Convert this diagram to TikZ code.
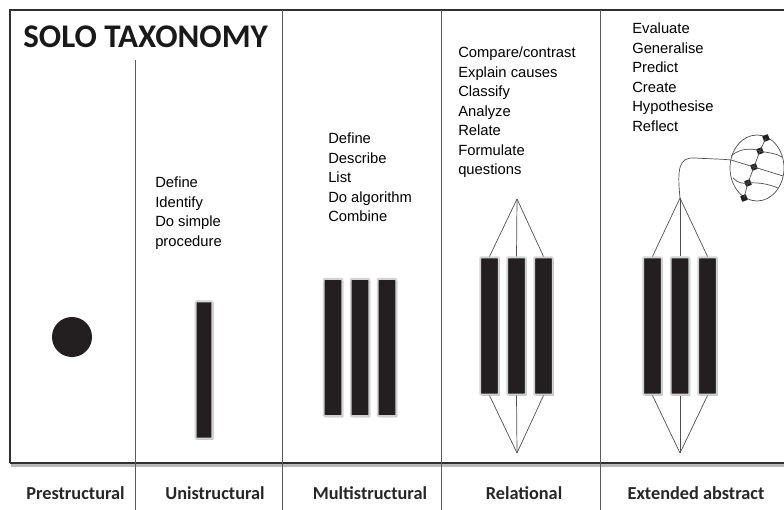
\documentclass[tikz,border=0pt]{standalone}
\usepackage{fontspec}
\setmainfont{Liberation Sans}
\newfontfamily\labelfont{Carlito}
\usepackage{tikz}
\usetikzlibrary{positioning, shadows, calc}
\definecolor{barblack}{HTML}{231F20}
\definecolor{framegray}{HTML}{303030}
\tikzset{
	barnode/.style={
			rectangle,
			draw=gray!35,
			line width=1.3pt,
			fill=barblack,
			rounded corners=0.6pt,
			minimum width=4.6mm,
			minimum height=34.3mm,
			inner sep=0pt,
			drop shadow={shadow xshift=0.3mm, shadow yshift=-0.3mm, fill=gray!60, opacity=0.9}
		},
	prenode/.style={
			circle,
			fill=barblack,
			minimum size=10mm,
			inner sep=0pt
		},
	smalldot/.style={
			rectangle,
			rounded corners=0.3pt,
			fill=barblack,
			minimum size=1.5mm,
			inner sep=0pt,
			rotate=20
		},
	wire/.style={
			draw=framegray!85,
			line width=0.5pt
		},
	divider/.style={
			draw=framegray!80,
			line width=0.6pt
		},
	listtext/.style={
			font=\fontsize{10.5}{13.8}\selectfont,
			align=left,
			anchor=north west,
			inner sep=0pt,
			text=black
		},
	leveltext/.style={
			font=\labelfont\bfseries\fontsize{13}{15}\selectfont,
			anchor=base,
			inner sep=0pt,
			text=black!85
		},
	titletext/.style={
			font=\labelfont\bfseries\fontsize{23.5}{27}\selectfont,
			anchor=base west,
			inner sep=0pt,
			text=black!90
		}
}

\begin{document}
\begin{tikzpicture}[x=0.025cm, y=-0.025cm]
\useasboundingbox (0,0) rectangle (784,510);
% frame
\draw[framegray, line width=1pt] (10,463) -- (10,10) -- (784,10);
\draw[gray!55, line width=1.6pt] (11,465.5) -- (784,465.5);
\draw[framegray, line width=2pt] (9.5,463) -- (784,463);
\draw[divider] (135,60) -- (135,510);
\foreach \x in {282,441,600} {
	\draw[divider] (\x,10) -- (\x,510);
}

\node[titletext] (title) at (23,48) {SOLO TAXONOMY};

% prestructural
\node[prenode] (pre) at (72,337) {};

% unistructural
\node[barnode, minimum width=4.2mm] (uni) at (204,370) {};
\node[listtext] (unitext) at (155,177) {Define\\Identify\\Do simple\\procedure};

% multistructural
\node[barnode] (m1) at (333,347.5) {};
\node[barnode] (m2) at (360,347.5) {};
\node[barnode] (m3) at (387,347.5) {};
\node[listtext] (multitext) at (328,133) {Define\\Describe\\List\\Do algorithm\\Combine};

% relational
\node[barnode] (r1) at (489.5,326) {};
\node[barnode] (r2) at (516.5,326) {};
\node[barnode] (r3) at (543.5,326) {};
\coordinate (rtop) at (517,199);
\coordinate (rbot) at (517,453);
\foreach \b in {r1,r2,r3} {
	\draw[wire] (rtop) -- (\b.north);
	\draw[wire] (\b.south) -- (rbot);
}
\node[listtext] (reltext) at (458,47) {Compare/contrast\\Explain causes\\Classify\\Analyze\\Relate\\Formulate\\questions};

% extended abstract
\node[barnode] (e1) at (652.5,326) {};
\node[barnode] (e2) at (680,326) {};
\node[barnode] (e3) at (707.5,326) {};
\coordinate (etop) at (680,198);
\coordinate (ebot) at (680,453);
\foreach \b in {e1,e2,e3} {
	\draw[wire] (etop) -- (\b.north);
	\draw[wire] (\b.south) -- (ebot);
}
\node[listtext] (exttext) at (632,23) {Evaluate\\Generalise\\Predict\\Create\\Hypothesise\\Reflect};

% sphere
\draw[wire] (757,168) ellipse [x radius=27, y radius=33];
\foreach \px/\py [count=\i] in {766/138, 760/151, 754/167, 748/183, 744/198} {
	\node[smalldot] (d\i) at (\px,\py) {};
}
\draw[wire] (etop) .. controls (677,168) and (679,157) .. (695,158)
	.. controls (712,159) and (722,159) .. (731,160) -- (d3.center) -- (783,176);
\draw[wire] plot[smooth] coordinates {(d1.center) (d2.center) (d3.center) (d4.center) (d5.center)};
\draw[wire] (731,156) .. controls (740,148) and (752,148) .. (d2.center)
	.. controls (768,153) and (776,153) .. (782,157);
\draw[wire] (733,178) .. controls (738,183) and (743,184) .. (d4.center)
	.. controls (760,182) and (771,185) .. (778,188);

% level names
\node[leveltext] (l1) at (75.5,500) {Prestructural};
\node[leveltext] (l2) at (215,500) {Unistructural};
\node[leveltext] (l3) at (370,500) {Multistructural};
\node[leveltext] (l4) at (524,500) {Relational};
\node[leveltext] (l5) at (696,500) {Extended abstract};
\end{tikzpicture}
\end{document}
